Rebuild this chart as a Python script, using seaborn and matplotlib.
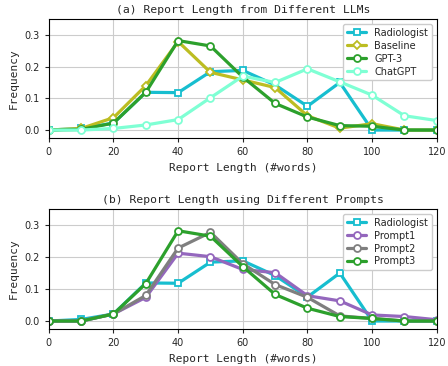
import pandas as pd
import matplotlib
matplotlib.use('Agg')
import matplotlib.pyplot as plt
import seaborn as sns

# Report length bins (#words)
lengths = [0, 10, 20, 30, 40, 50, 60, 70, 80, 90, 100, 110, 120]

radiologist = [0.0, 0.005, 0.022, 0.119, 0.118, 0.184, 0.188, 0.142, 0.075, 0.150, 0.0, 0.0, 0.0]
baseline = [0.0, 0.005, 0.039, 0.140, 0.279, 0.182, 0.158, 0.134, 0.045, 0.006, 0.020, 0.0, 0.0]
gpt3 = [0.0, 0.002, 0.022, 0.119, 0.282, 0.265, 0.167, 0.084, 0.041, 0.014, 0.012, 0.0, 0.0]
chatgpt = [0.0, 0.0, 0.005, 0.016, 0.033, 0.102, 0.170, 0.150, 0.193, 0.152, 0.110, 0.045, 0.030]

prompt1 = [0.0, 0.0, 0.022, 0.074, 0.212, 0.201, 0.161, 0.151, 0.079, 0.063, 0.019, 0.014, 0.004]
prompt2 = [0.0, 0.0, 0.022, 0.080, 0.228, 0.277, 0.179, 0.114, 0.074, 0.016, 0.008, 0.0, 0.0]
prompt3 = [0.0, 0.0, 0.022, 0.117, 0.282, 0.265, 0.170, 0.083, 0.040, 0.014, 0.008, 0.0, 0.0]

sns.set_theme(style="ticks", rc={"axes.grid": True, "grid.color": "#cccccc",
                                 "axes.edgecolor": "black", "axes.linewidth": 0.8})

fig = plt.figure(figsize=(4.48, 3.66), dpi=100)
ax1 = fig.add_axes([0.109, 0.623, 0.866, 0.325])
ax2 = fig.add_axes([0.109, 0.101, 0.866, 0.328])

panels = [
    (ax1, "(a) Report Length from Different LLMs",
     [("Radiologist", radiologist, "#17becf", "s"),
      ("Baseline", baseline, "#bcbd22", "D"),
      ("GPT-3", gpt3, "#2ca02c", "o"),
      ("ChatGPT", chatgpt, "#7fffd4", "o")]),
    (ax2, "(b) Report Length using Different Prompts",
     [("Radiologist", radiologist, "#17becf", "s"),
      ("Prompt1", prompt1, "#9467bd", "o"),
      ("Prompt2", prompt2, "#7f7f7f", "o"),
      ("Prompt3", prompt3, "#2ca02c", "o")]),
]

for ax, title, series in panels:
    for name, vals, color, mk in series:
        df = pd.DataFrame({"length": lengths, "freq": vals})
        sns.lineplot(data=df, x="length", y="freq", ax=ax, color=color,
                     marker=mk, markersize=5 if mk != "D" else 4.5,
                     markerfacecolor="white", markeredgecolor=color,
                     markeredgewidth=1.3, linewidth=2.3, label=name)
    ax.set_xlim(0, 120)
    ax.set_ylim(-0.025, 0.35)
    ax.set_xticks([0, 20, 40, 60, 80, 100, 120])
    ax.set_yticks([0.0, 0.1, 0.2, 0.3])
    ax.tick_params(labelsize=7, length=3, width=0.8)
    ax.set_title(title, fontsize=8.2, family="DejaVu Sans Mono", pad=4)
    ax.set_xlabel("Report Length (#words)", fontsize=8, family="DejaVu Sans Mono")
    ax.set_ylabel("Frequency", fontsize=8, family="DejaVu Sans Mono")
    ax.grid(True, color="#cccccc", linewidth=0.8)
    ax.legend(loc="upper right", fontsize=7, handlelength=2, borderpad=0.4,
              labelspacing=0.3, framealpha=1)

plt.savefig("out.png", dpi=100)
